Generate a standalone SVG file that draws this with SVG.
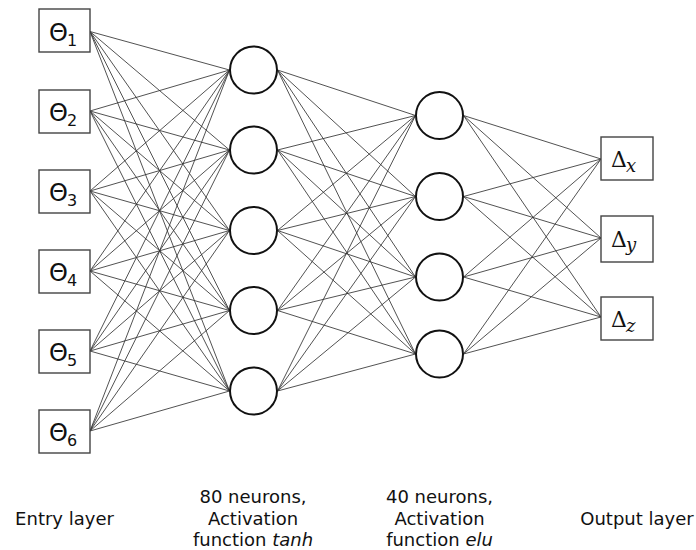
<svg xmlns="http://www.w3.org/2000/svg" width="696" height="550" viewBox="0 0 696 550">
<style>
.box{fill:#fff;stroke:#444;stroke-width:1.4}
.neuron{fill:#fff;stroke:#111;stroke-width:2}
.conn{fill:none;stroke:#333;stroke-width:0.85}
.th{font-family:"DejaVu Sans",Verdana,sans-serif;font-size:24px;fill:#111}
.sub{font-family:"DejaVu Sans",Verdana,sans-serif;font-size:16px;fill:#111}
.dl{font-family:"DejaVu Serif","Liberation Serif",serif;font-size:22px;fill:#111}
.dsub{font-family:"DejaVu Serif","Liberation Serif",serif;font-size:18px;font-style:italic;fill:#111}
.lbl{font-family:"DejaVu Sans",Verdana,sans-serif;font-size:18px;fill:#111;text-anchor:middle}
</style>
<rect width="696" height="550" fill="#fff"/>
<g id="connectors" class="conn">
<path d="M90 31.5L229.5 70M90 31.5L229.5 150M90 31.5L229.5 230.5M90 31.5L229.5 310.5M90 31.5L229.5 391"/>
<path d="M90 111L229.5 70M90 111L229.5 150M90 111L229.5 230.5M90 111L229.5 310.5M90 111L229.5 391"/>
<path d="M90 191L229.5 70M90 191L229.5 150M90 191L229.5 230.5M90 191L229.5 310.5M90 191L229.5 391"/>
<path d="M90 271L229.5 70M90 271L229.5 150M90 271L229.5 230.5M90 271L229.5 310.5M90 271L229.5 391"/>
<path d="M90 351L229.5 70M90 351L229.5 150M90 351L229.5 230.5M90 351L229.5 310.5M90 351L229.5 391"/>
<path d="M90 431L229.5 70M90 431L229.5 150M90 431L229.5 230.5M90 431L229.5 310.5M90 431L229.5 391"/>
<path d="M277.5 70L415.5 115.5M277.5 70L415.5 196.5M277.5 70L415.5 277M277.5 70L415.5 354"/>
<path d="M277.5 150L415.5 115.5M277.5 150L415.5 196.5M277.5 150L415.5 277M277.5 150L415.5 354"/>
<path d="M277.5 230.5L415.5 115.5M277.5 230.5L415.5 196.5M277.5 230.5L415.5 277M277.5 230.5L415.5 354"/>
<path d="M277.5 310.5L415.5 115.5M277.5 310.5L415.5 196.5M277.5 310.5L415.5 277M277.5 310.5L415.5 354"/>
<path d="M277.5 391L415.5 115.5M277.5 391L415.5 196.5M277.5 391L415.5 277M277.5 391L415.5 354"/>
<path d="M463.5 115.5L601 159M463.5 115.5L601 238M463.5 115.5L601 317"/>
<path d="M463.5 196.5L601 159M463.5 196.5L601 238M463.5 196.5L601 317"/>
<path d="M463.5 277L601 159M463.5 277L601 238M463.5 277L601 317"/>
<path d="M463.5 354L601 159M463.5 354L601 238M463.5 354L601 317"/>
</g>
<g id="in1"><rect class="box" x="39" y="9" width="51" height="43"/><text class="th" x="49" y="40.5">Θ</text><text class="sub" x="67" y="45.5">1</text></g>
<g id="in2"><rect class="box" x="39" y="90" width="51" height="43"/><text class="th" x="49" y="121">Θ</text><text class="sub" x="67" y="126">2</text></g>
<g id="in3"><rect class="box" x="39" y="170" width="51" height="43"/><text class="th" x="49" y="201">Θ</text><text class="sub" x="67" y="206">3</text></g>
<g id="in4"><rect class="box" x="39" y="250" width="51" height="43"/><text class="th" x="49" y="281">Θ</text><text class="sub" x="67" y="286">4</text></g>
<g id="in5"><rect class="box" x="39" y="330" width="51" height="43"/><text class="th" x="49" y="361">Θ</text><text class="sub" x="67" y="366">5</text></g>
<g id="in6"><rect class="box" x="39" y="410" width="51" height="43"/><text class="th" x="49" y="441">Θ</text><text class="sub" x="67" y="446">6</text></g>
<g id="h1a"><circle class="neuron" cx="253.5" cy="70" r="23.5"/></g>
<g id="h1b"><circle class="neuron" cx="253.5" cy="150" r="23.5"/></g>
<g id="h1c"><circle class="neuron" cx="253.5" cy="230.5" r="23.5"/></g>
<g id="h1d"><circle class="neuron" cx="253.5" cy="310.5" r="23.5"/></g>
<g id="h1e"><circle class="neuron" cx="253.5" cy="391" r="23.5"/></g>
<g id="h2a"><circle class="neuron" cx="439.5" cy="115.5" r="23.5"/></g>
<g id="h2b"><circle class="neuron" cx="439.5" cy="196.5" r="23.5"/></g>
<g id="h2c"><circle class="neuron" cx="439.5" cy="277" r="23.5"/></g>
<g id="h2d"><circle class="neuron" cx="439.5" cy="354" r="23.5"/></g>
<g id="outx"><rect class="box" x="601" y="137" width="52" height="43"/><text class="dl" x="611" y="167">Δ</text><text class="dsub" x="626" y="172">x</text></g>
<g id="outy"><rect class="box" x="601" y="216" width="52" height="46"/><text class="dl" x="611" y="246.5">Δ</text><text class="dsub" x="626" y="250.5">y</text></g>
<g id="outz"><rect class="box" x="601" y="297" width="52" height="43"/><text class="dl" x="611" y="326.5">Δ</text><text class="dsub" x="626" y="331.5">z</text></g>
<g id="labels">
<text class="lbl" x="64.5" y="525">Entry layer</text>
<text class="lbl" x="253" y="503">80 neurons,</text>
<text class="lbl" x="253" y="525">Activation</text>
<text class="lbl" x="253" y="546">function <tspan font-style="italic">tanh</tspan></text>
<text class="lbl" x="439.5" y="503">40 neurons,</text>
<text class="lbl" x="439.5" y="525">Activation</text>
<text class="lbl" x="439.5" y="546">function <tspan font-style="italic">elu</tspan></text>
<text class="lbl" x="637" y="525">Output layer</text>
</g>
</svg>
